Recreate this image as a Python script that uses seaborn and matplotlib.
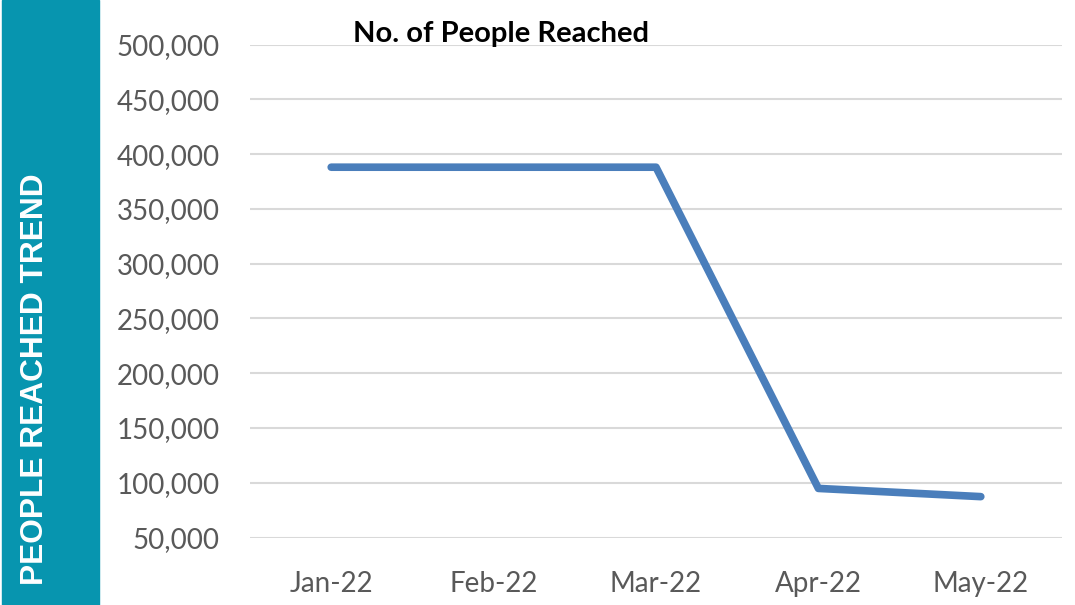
import matplotlib
matplotlib.use("Agg")
import matplotlib.pyplot as plt
import matplotlib.patches as mpatches
import seaborn as sns
import pandas as pd
from matplotlib.ticker import FuncFormatter

months = ["Jan-22", "Feb-22", "Mar-22", "Apr-22", "May-22"]
people_reached = [388000, 388000, 388000, 94800, 87300]
y_ticks = [50000, 100000, 150000, 200000, 250000, 300000, 350000, 400000, 450000, 500000]

df = pd.DataFrame({"month": months, "reached": people_reached, "pos": range(len(months))})

sns.set_theme(style="white")
plt.rcParams["font.family"] = ["Lato", "DejaVu Sans"]

fig = plt.figure(figsize=(10.75, 6.05), dpi=100)
ax = fig.add_axes([250/1075, 1-537.5/605, (1062-250)/1075, (537.5-44.5)/605])

sns.lineplot(data=df, x="pos", y="reached", ax=ax, color="#4a7ebb", linewidth=5.5,
             solid_capstyle="round", solid_joinstyle="round", sort=False)

ax.set_xlim(-0.5, len(months) - 0.5)
ax.set_ylim(50000, 500000)
ax.set_yticks(y_ticks)
ax.yaxis.set_major_formatter(FuncFormatter(lambda v, p: f"{int(v):,}"))
ax.set_xticks(range(len(months)))
ax.set_xticklabels(months)
ax.grid(axis="y", color="#d9d9d9", linewidth=1.5)
ax.set_axisbelow(True)
for s in ax.spines.values():
    s.set_visible(False)
ax.tick_params(axis="both", length=0, labelsize=20, colors="#595959")
ax.tick_params(axis="y", pad=22)
ax.tick_params(axis="x", pad=24)
ax.set_xlabel("")
ax.set_ylabel("")

fig.text(501/1075, 1-34/605, "No. of People Reached", ha="center", va="center",
         fontsize=21, fontweight="bold", color="black")

band = mpatches.Rectangle((2/1075, 0), 97/1075, 1, transform=fig.transFigure,
                          color="#0795AF", zorder=0)
fig.patches.append(band)
fig.text(35/1075, 1-379/605, "PEOPLE REACHED TREND", rotation=90, ha="center", va="center",
         fontsize=22.8, fontweight="bold", color="white", family=["Liberation Sans", "DejaVu Sans"])

fig.savefig("out.png", dpi=100)
